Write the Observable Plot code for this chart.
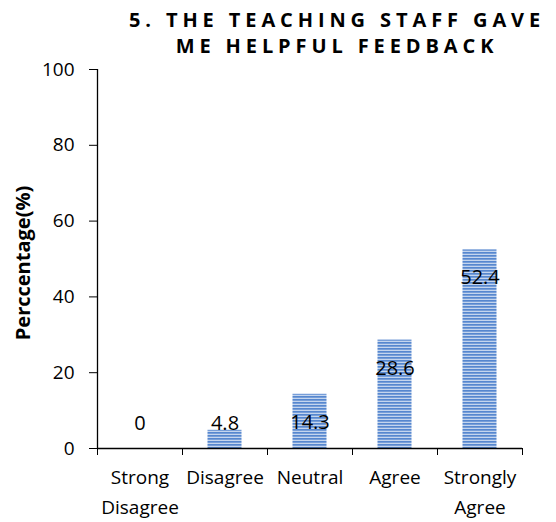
<!DOCTYPE html>
<html><head><meta charset="utf-8">
<script src="https://cdn.jsdelivr.net/npm/d3@7"></script>
<script src="https://cdn.jsdelivr.net/npm/@observablehq/plot@0.6"></script>
<style>body{margin:0;background:#fff}</style>
</head><body><div id="chart"></div>
<script>
const categories = ["Strong\nDisagree", "Disagree", "Neutral", "Agree", "Strongly\nAgree"];
const values = [0, 4.8, 14.3, 28.6, 52.4];
const yTicks = [0, 20, 40, 60, 80, 100];
const titleLines = ["5. THE TEACHING STAFF GAVE", "ME HELPFUL FEEDBACK"];
const yLabel = "Perccentage(%)";

const data = categories.map((c, i) => ({cat: c, i, value: values[i]}));
const font = "'Open Sans', sans-serif";

const chart = Plot.plot({
  width: 556, height: 522,
  marginTop: 69, marginBottom: 74, marginLeft: 97, marginRight: 34,
  style: {fontFamily: font, fontSize: "19px", color: "#000", background: "#fff", overflow: "visible"},
  x: {domain: [0, categories.length], axis: null},
  y: {domain: [0, 100], axis: null},
  marks: [
    Plot.rectY(data, {x1: d => d.i + 0.3, x2: d => d.i + 0.7, y1: 0, y2: "value", fill: "url(#stripes)"}),
    Plot.axisY({ticks: yTicks, label: null, tickSize: 8, tickPadding: 15, stroke: "#000", strokeOpacity: 1, fontSize: 19, tickFormat: d => String(d)}),
    Plot.axisX({ticks: d3.range(categories.length + 1), label: null, tickSize: 7, tickFormat: () => "", stroke: "#000", strokeOpacity: 1}),
    Plot.ruleX([0], {y1: 0, y2: 100, stroke: "#000", strokeWidth: 1.3}),
    Plot.ruleY([0], {x1: 0, x2: categories.length, stroke: "#000", strokeWidth: 1.3}),
    Plot.text(data, {x: d => d.i + 0.5, y: 0, text: "cat", lineAnchor: "top", dy: 14, lineHeight: 1.58, fontSize: 19, fill: "#000"}),
    Plot.text(data, {x: d => d.i + 0.5, y: d => Math.max(d.value - 7.4, 6.6), text: d => String(d.value), fontSize: 20, fill: "#000"}),
    Plot.text([yLabel], {frameAnchor: "left", textAnchor: "middle", rotate: -90, dx: -74, dy: 4, fontWeight: "bold", fontSize: 20, fill: "#000"}),
    Plot.text([titleLines.join("\n")], {frameAnchor: "top", lineAnchor: "bottom", dy: -17, dx: 27, lineHeight: 1.3, fontWeight: "bold", fontSize: 20, fill: "#000"})
  ]
});

const svg = d3.select(chart);
const defs = svg.insert("defs", ":first-child");
const p = defs.append("pattern").attr("id", "stripes").attr("patternUnits", "userSpaceOnUse").attr("width", 4).attr("height", 3);
p.append("rect").attr("width", 4).attr("height", 3).attr("fill", "#c4d5ee");
p.append("rect").attr("width", 4).attr("height", 1.7).attr("fill", "#5687cf");
svg.selectAll("text").filter(function() { return this.textContent.includes("TEACHING"); })
  .attr("letter-spacing", "4.9px");

document.getElementById("chart").appendChild(chart);
</script>
</body></html>
